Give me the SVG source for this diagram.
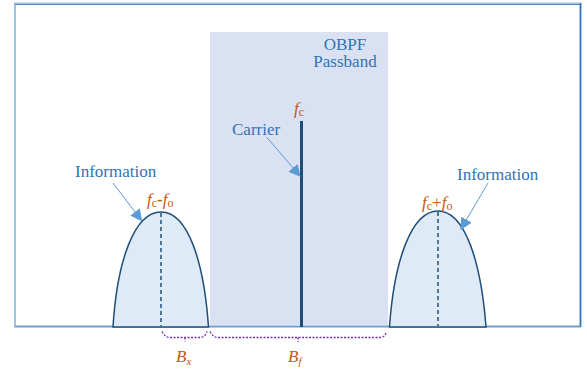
<svg xmlns="http://www.w3.org/2000/svg" width="587" height="371" viewBox="0 0 587 371">
<defs>
<style>
.lbl{font-family:"Liberation Serif","DejaVu Serif","Times New Roman",serif;font-size:17px;fill:#2e75b6}
.f{font-family:"Liberation Serif","DejaVu Serif","Times New Roman",serif;font-size:17px;fill:#c55a11}
.lobe{fill:#deebf7;stroke:#1f4e79;stroke-width:1.5}
.dash{stroke:#1f4e79;stroke-width:1.5;stroke-dasharray:4,3;fill:none}
.arr{stroke:#5b9bd5;stroke-width:1;fill:none;marker-end:url(#ah)}
.brace{stroke:#7030a0;stroke-width:1.3;stroke-dasharray:2,1.5;fill:none}
</style>
<marker id="ah" viewBox="0 0 10 10" refX="9" refY="5" markerWidth="12" markerHeight="12" markerUnits="userSpaceOnUse" orient="auto">
<path d="M0,0 L10,5 L0,10 Z" fill="#5b9bd5"/>
</marker>
</defs>
<rect width="587" height="371" fill="#ffffff"/>
<g id="frame">
<rect x="15" y="3.5" width="565.5" height="323" fill="none" stroke="#9dc3e6" stroke-width="2"/>
<line x1="15" y1="4.5" x2="580.5" y2="4.5" stroke="#4f81bd" stroke-width="1"/>
<line x1="580.5" y1="3" x2="580.5" y2="327" stroke="#2e75b6" stroke-width="1.5"/>
</g>
<g id="passband">
<rect x="210" y="32" width="178" height="295" fill="#dae1f3"/>
<text class="lbl" x="345" y="49.5" text-anchor="middle">OBPF</text>
<text class="lbl" x="345" y="67" text-anchor="middle">Passband</text>
</g>
<g id="baseline">
<line x1="15" y1="326.5" x2="580.5" y2="326.5" stroke="#6a9fd0" stroke-width="1.5"/>
</g>
<g id="lobe-left">
<path class="lobe" d="M113,327 C117,262 134,212 161,212 C188,212 204,262 208.5,327 Z"/>
<line class="dash" x1="161" y1="213" x2="161" y2="326"/>
<text class="f" x="147" y="205"><tspan font-style="italic">f</tspan><tspan font-size="12" dy="2">c</tspan><tspan dy="-2" font-weight="bold">-</tspan><tspan font-style="italic">f</tspan><tspan font-size="12" dy="2">o</tspan></text>
</g>
<g id="lobe-right">
<path class="lobe" d="M389.5,327 C394,262 411,211 438,211 C465,211 481,262 486,327 Z"/>
<line class="dash" x1="438" y1="212" x2="438" y2="326"/>
<text class="f" x="422" y="208"><tspan font-style="italic">f</tspan><tspan font-size="12" dy="2">c</tspan><tspan dy="-2">+</tspan><tspan font-style="italic">f</tspan><tspan font-size="12" dy="2">o</tspan></text>
</g>
<g id="carrier">
<line x1="301.5" y1="121" x2="301.5" y2="327" stroke="#1f4e79" stroke-width="3"/>
<text class="f" x="294" y="114"><tspan font-style="italic">f</tspan><tspan font-size="12" dy="2">c</tspan></text>
</g>
<g id="labels">
<text class="lbl" x="75" y="177">Information</text>
<text class="lbl" x="457" y="179.5">Information</text>
<text class="lbl" x="232" y="135">Carrier</text>
</g>
<g id="connectors">
<line class="arr" x1="113" y1="183" x2="141.5" y2="220.5"/>
<line class="arr" x1="488" y1="183" x2="461" y2="229"/>
<line class="arr" x1="266.5" y1="137" x2="300" y2="176"/>
</g>
<g id="braces">
<path class="brace" d="M162,331.5 Q165,337.5 170,337.5 L200,337.5 Q205,337.5 207,331.5 M185,337.5 L185,341.5"/>
<path class="brace" d="M210,331.5 Q213,337.5 218,337.5 L380,337.5 Q385,337.5 386.5,331.5 M298,337.5 L298,342"/>
<text class="f" x="176" y="362" font-style="italic" font-size="16">B<tspan font-size="11" dy="3">x</tspan></text>
<text class="f" x="288" y="362" font-style="italic" font-size="16">B<tspan font-size="11" dy="3">f</tspan></text>
</g>
</svg>
